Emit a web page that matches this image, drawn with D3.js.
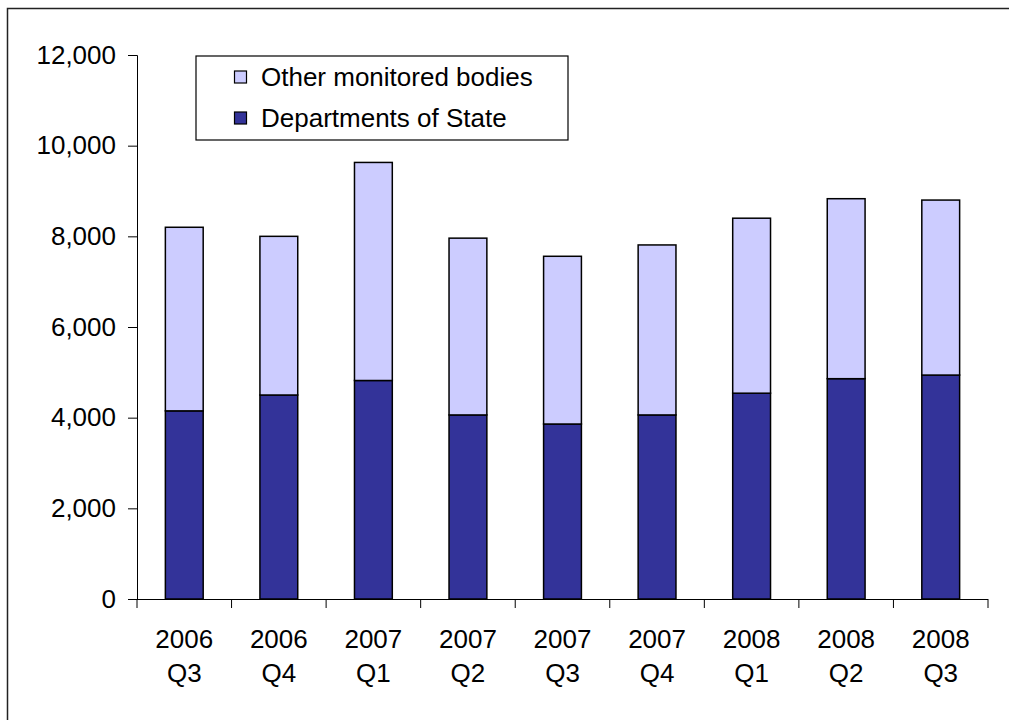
<!DOCTYPE html>
<html>
<head>
<meta charset="utf-8">
<script src="https://cdn.jsdelivr.net/npm/d3@7"></script>
<style>
  html, body { margin: 0; padding: 0; background: #fff; }
  svg { display: block; font-family: Arial, "Liberation Sans", sans-serif; }
</style>
</head>
<body>
<svg id="chart" width="1009" height="720"></svg>
<script>
const categories = [["2006","Q3"],["2006","Q4"],["2007","Q1"],["2007","Q2"],["2007","Q3"],["2007","Q4"],["2008","Q1"],["2008","Q2"],["2008","Q3"]];
const departments = [4150, 4500, 4820, 4060, 3860, 4060, 4540, 4860, 4940];
const others = [4050, 3500, 4810, 3900, 3700, 3750, 3860, 3970, 3860];
const yTicks = [0, 2000, 4000, 6000, 8000, 10000, 12000];
const seriesNames = ["Other monitored bodies", "Departments of State"];
const colors = { dept: "#333399", other: "#CCCCFF" };

(function () {
const svg = d3.select("#chart");
const mLeft = 137, mRight = 988, mTop = 55, mBottom = 599;
const fontSize = 26;

// outer frame (cropped: only top and left visible)
svg.append("rect").attr("x", 7.5).attr("y", 8.5).attr("width", 1100).attr("height", 800)
  .attr("fill", "none").attr("stroke", "#222").attr("stroke-width", 1.5);

const keys = categories.map(c => c.join(" "));
const x = d3.scaleBand().domain(keys).range([mLeft, mRight]).paddingInner(0.6).paddingOuter(0.3);
const xTickScale = d3.scaleBand().domain(keys).range([mLeft, mRight]);
const y = d3.scaleLinear().domain([0, 12000]).range([mBottom, mTop]);

// y axis
const yAxis = svg.append("g").attr("transform", `translate(${mLeft},0)`)
  .call(d3.axisLeft(y).tickValues(yTicks).tickSize(9).tickPadding(12).tickFormat(d3.format(",")));
yAxis.select(".domain").attr("stroke", "#000").attr("stroke-width", 1);
yAxis.selectAll(".tick line").attr("stroke", "#000");
yAxis.selectAll("text").attr("font-size", fontSize).attr("fill", "#000")
  .attr("font-family", "Arial, 'Liberation Sans', sans-serif");

// stacked bars
const stackData = categories.map((c, i) => ({ key: keys[i], dept: departments[i], other: others[i] }));
const stack = d3.stack().keys(["dept", "other"])(stackData);
const g = svg.append("g");
stack.forEach(layer => {
  g.selectAll(null).data(layer).enter().append("rect")
    .attr("x", d => x(d.data.key))
    .attr("width", x.bandwidth())
    .attr("y", d => y(d[1]))
    .attr("height", d => y(d[0]) - y(d[1]))
    .attr("fill", colors[layer.key])
    .attr("stroke", "#000").attr("stroke-width", 1.5);
});

// x axis line and ticks
svg.append("line").attr("x1", mLeft).attr("x2", mRight).attr("y1", mBottom + 0.5).attr("y2", mBottom + 0.5)
  .attr("stroke", "#000").attr("stroke-width", 1);
const tickXs = keys.map(k => xTickScale(k)).concat([mRight]);
svg.selectAll(null).data(tickXs).enter().append("line")
  .attr("x1", d => d).attr("x2", d => d).attr("y1", mBottom).attr("y2", mBottom + 9)
  .attr("stroke", "#000").attr("stroke-width", 1);

// x labels
const xl = svg.selectAll(null).data(categories).enter().append("text")
  .attr("text-anchor", "middle").attr("font-size", fontSize).attr("fill", "#000");
xl.append("tspan").attr("x", (d, i) => x(keys[i]) + x.bandwidth() / 2).attr("y", 648).text(d => d[0]);
xl.append("tspan").attr("x", (d, i) => x(keys[i]) + x.bandwidth() / 2).attr("y", 682).text(d => d[1]);

// legend
const lg = svg.append("g");
lg.append("rect").attr("x", 196).attr("y", 56).attr("width", 372).attr("height", 84)
  .attr("fill", "#fff").attr("stroke", "#000").attr("stroke-width", 1.2);
const legendItems = [{ name: seriesNames[0], color: colors.other, cy: 77 }, { name: seriesNames[1], color: colors.dept, cy: 118 }];
legendItems.forEach(it => {
  lg.append("rect").attr("x", 234.5).attr("y", it.cy - 6).attr("width", 12).attr("height", 12)
    .attr("fill", it.color).attr("stroke", "#000").attr("stroke-width", 1.2);
  lg.append("text").attr("x", 261).attr("y", it.cy).attr("dy", "0.35em")
    .attr("font-size", fontSize).attr("fill", "#000").text(it.name);
});
})();
</script>
</body>
</html>
